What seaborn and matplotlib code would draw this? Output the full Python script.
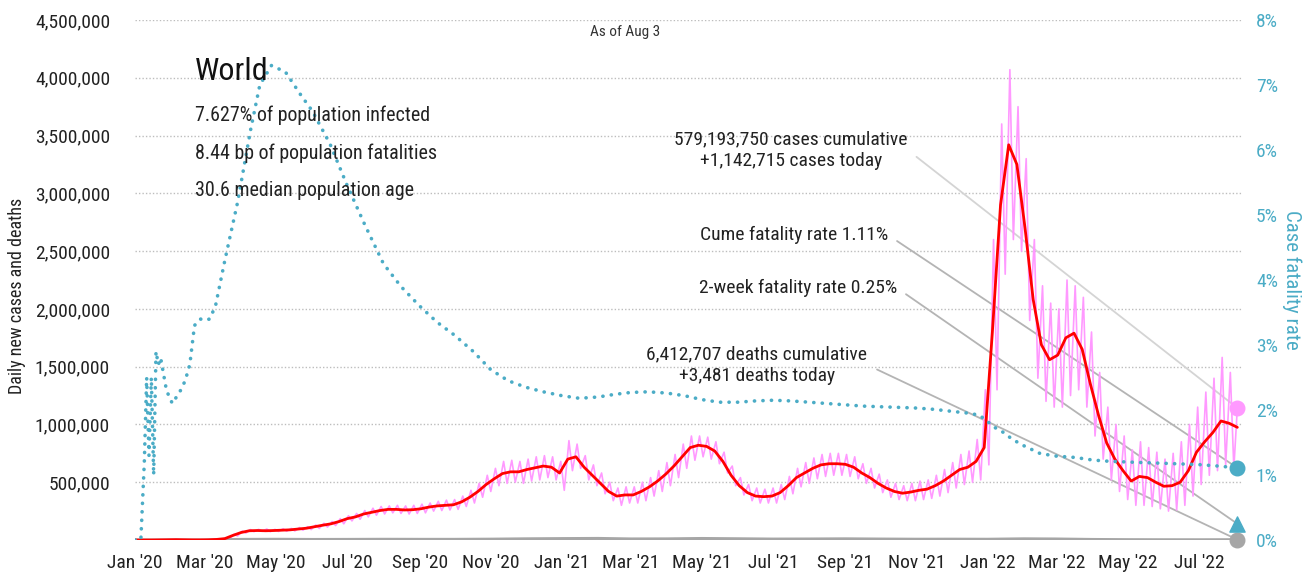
import numpy as np
import pandas as pd
import matplotlib
matplotlib.use("Agg")
import matplotlib.pyplot as plt
import matplotlib.dates as mdates
import matplotlib.ticker as mticker
from matplotlib import font_manager
import seaborn as sns

# ---------------- data ----------------
start = pd.Timestamp("2020-01-01")
end = pd.Timestamp("2022-08-03")

# 7-day average of daily new cases, thousands, weekly from 2020-01-01 (136 weeks)
wk_avg = [0, 0, 0, 1, 2, 3, 2, 1, 1, 2, 5, 12, 40, 65, 80, 82, 80, 82, 85, 88,
          95, 102, 115, 128, 140, 160, 185, 200, 225, 240, 255, 265, 265, 260, 262, 270, 285, 295, 300, 305,
          330, 370, 420, 480, 530, 575, 590, 590, 610, 625, 640, 630, 580, 700, 720, 630, 560, 490, 420, 380,
          390, 390, 420, 460, 510, 570, 640, 720, 800, 820, 810, 770, 680, 560, 470, 410, 380, 375, 380, 410,
          470, 540, 580, 620, 650, 660, 660, 655, 630, 580, 540, 490, 450, 420, 405, 415, 430, 440, 470, 510,
          560, 610, 630, 680, 800, 1800, 2900, 3420, 3250, 2700, 2080, 1690, 1560, 1600, 1750, 1790, 1650, 1350, 1080, 840,
          700, 600, 510, 550, 540, 500, 465, 470, 500, 600, 760, 850, 930, 1030, 1010, 975]

# weekly high / low of raw daily new cases, thousands (135 weeks)
wk_high = [0, 0, 0, 1, 3, 4, 3, 2, 2, 3, 8, 18, 50, 78, 90, 92, 95, 92, 97, 100,
           108, 115, 130, 145, 160, 185, 210, 230, 255, 275, 290, 295, 300, 295, 300, 310, 320, 335, 345, 350,
           380, 430, 490, 560, 620, 680, 690, 680, 700, 720, 730, 720, 680, 860, 830, 730, 650, 580, 500, 450,
           460, 460, 500, 540, 600, 670, 740, 830, 900, 900, 890, 850, 760, 640, 540, 480, 450, 440, 450, 480,
           550, 620, 670, 710, 740, 750, 750, 740, 720, 660, 620, 570, 520, 490, 470, 490, 510, 520, 560, 610,
           670, 740, 770, 870, 1300, 2600, 3600, 4070, 3750, 3300, 2600, 2200, 2050, 2000, 2250, 2200, 2100, 1800, 1450, 1150,
           1000, 900, 780, 850, 800, 760, 700, 750, 850, 1000, 1150, 1280, 1400, 1580, 1450]
wk_low = [0, 0, 0, 0, 2, 2, 1, 0, 1, 2, 4, 10, 35, 60, 72, 75, 72, 74, 76, 78,
          85, 90, 100, 112, 125, 140, 165, 180, 200, 215, 225, 235, 230, 225, 230, 235, 250, 255, 260, 265,
          290, 320, 370, 420, 470, 490, 500, 490, 510, 520, 540, 520, 430, 600, 620, 520, 470, 400, 340, 300,
          320, 320, 340, 380, 420, 470, 540, 620, 690, 720, 700, 660, 580, 470, 390, 340, 320, 320, 320, 350,
          400, 460, 490, 530, 550, 560, 560, 550, 530, 490, 450, 410, 370, 350, 340, 340, 350, 360, 380, 410,
          450, 480, 500, 520, 650, 1300, 2300, 2600, 2500, 1900, 1400, 1200, 1150, 1150, 1250, 1300, 1150, 900, 700, 520,
          420, 350, 300, 300, 290, 270, 250, 260, 300, 380, 480, 560, 600, 650, 620]
cases_today = 1142715
cases_cumulative = 579193750

# cumulative case fatality rate (%), day offset from 2020-01-01
cfr_day = [0, 5, 8, 10, 12, 14, 16, 18, 20, 22, 24, 27, 32, 39, 43, 47, 51, 56, 60, 64,
           69, 77, 88, 99, 107, 117, 129, 142, 152, 167, 182, 197, 213, 228, 244, 259, 274, 290, 305, 320,
           335, 350, 366, 381, 397, 411, 425, 440, 456, 471, 486, 501, 517, 532, 547, 562, 578, 593, 609, 624,
           639, 655, 670, 685, 700, 715, 724, 731, 738, 745, 752, 762, 776, 790, 806, 821, 836, 851, 866, 882,
           897, 912, 927, 945]
cfr_pct = [0, 0, 1.2, 2.5, 1.3, 2.5, 1.0, 2.9, 2.7, 2.8, 2.6, 2.3, 2.1, 2.3, 2.45, 2.7, 3.3, 3.4, 3.38, 3.4,
           3.6, 4.3, 5.2, 6.3, 7.0, 7.3, 7.2, 6.85, 6.6, 6.1, 5.45, 4.85, 4.25, 3.9, 3.6, 3.35, 3.15, 2.9, 2.62, 2.45,
           2.35, 2.28, 2.22, 2.18, 2.2, 2.24, 2.27, 2.28, 2.26, 2.22, 2.16, 2.12, 2.12, 2.14, 2.15, 2.14, 2.12, 2.1, 2.08, 2.06,
           2.05, 2.04, 2.03, 2.01, 1.98, 1.95, 1.92, 1.82, 1.72, 1.65, 1.55, 1.45, 1.33, 1.29, 1.27, 1.23, 1.21, 1.2, 1.19, 1.18,
           1.17, 1.16, 1.14, 1.11]
cfr_2week = 0.25

# daily deaths (7-day avg, thousands) at month starts
death_months = pd.date_range("2020-01-01", "2022-08-01", freq="MS")
deaths_k = [0, 0.1, 0.1, 5, 6, 4.5, 5, 6, 5.5, 5.5, 7, 10,
            12, 13.5, 9, 9.5, 13, 10.5, 7.8, 8.5, 10, 8, 6.5, 7,
            6.2, 10, 8.5, 4.5, 2.7, 2, 1.8, 2.5]
deaths_today = 3481
deaths_cumulative = 6412707

# ---------------- frames ----------------
wk_dates = start + pd.to_timedelta(np.arange(len(wk_avg)) * 7, unit="D")
avg_df = pd.DataFrame({"date": wk_dates, "cases": np.array(wk_avg) * 1000})

p_dates, p_vals = [], []
for k in range(len(wk_high)):
    p_dates.append(start + pd.Timedelta(days=7 * k + 1)); p_vals.append(wk_high[k] * 1000)
    p_dates.append(start + pd.Timedelta(days=7 * k + 4)); p_vals.append(wk_low[k] * 1000)
p_dates.append(end); p_vals.append(cases_today)
raw_df = pd.DataFrame({"date": p_dates, "cases": p_vals})

cfr_df = pd.DataFrame({"date": start + pd.to_timedelta(cfr_day, unit="D"), "cfr": cfr_pct})
d_df = pd.DataFrame({"date": list(death_months) + [end],
                     "deaths": list(np.array(deaths_k) * 1000) + [deaths_today]})

# ---------------- style ----------------
sns.set_theme(style="white")
avail = {f.name for f in font_manager.fontManager.ttflist}
fam = "DejaVu Sans"
for cand in ["Roboto Condensed", "Liberation Sans Narrow", "Open Sans Condensed", "DejaVu Sans Condensed"]:
    if cand in avail:
        fam = cand
        break
plt.rcParams["font.family"] = [fam, "DejaVu Sans"]

PINK = "#ff99ff"
RED = "#ff0000"
TEAL = "#4bacc6"
GREY = "#a6a6a6"

W, H = 1314, 580
fig = plt.figure(figsize=(W / 100, H / 100), dpi=100)
ax = fig.add_axes([135 / W, 1 - 540 / H, (1242 - 135) / W, 520 / H])
ax2 = ax.twinx()

sns.lineplot(data=raw_df, x="date", y="cases", ax=ax, color=PINK, lw=1.2, zorder=2)
sns.lineplot(data=d_df, x="date", y="deaths", ax=ax, color=GREY, lw=2.2, zorder=3)
sns.lineplot(data=avg_df, x="date", y="cases", ax=ax, color=RED, lw=2.0, zorder=4)
sns.lineplot(data=cfr_df, x="date", y="cfr", ax=ax2, color=TEAL, lw=2.6,
             linestyle=(0, (0.05, 2.3)), dash_capstyle="round", zorder=5)

end_num = mdates.date2num(end)

# end markers
ax.scatter([end_num], [cases_today], s=110, color=PINK, zorder=6, clip_on=False)
ax.scatter([end_num], [deaths_today], s=110, color=GREY, zorder=6, clip_on=False)
ax2.scatter([end_num], [cfr_pct[-1]], s=110, color=TEAL, zorder=6, clip_on=False)
ax2.scatter([end_num], [cfr_2week], s=120, marker="^", color=TEAL, zorder=6, clip_on=False)

# axes
ax.set_xlim(mdates.date2num(start), mdates.date2num(end + pd.Timedelta(days=4)))
ax.set_ylim(0, 4_500_000)
ax2.set_ylim(0, 8)
ax.yaxis.set_major_locator(mticker.MultipleLocator(500_000))
ax.yaxis.set_major_formatter(mticker.FuncFormatter(lambda v, p: "" if v == 0 else f"{int(v):,}"))
ax2.yaxis.set_major_locator(mticker.MultipleLocator(1))
ax2.yaxis.set_major_formatter(mticker.FuncFormatter(lambda v, p: f"{int(round(v))}%"))
ax.xaxis.set_major_locator(mdates.MonthLocator(bymonth=[1, 3, 5, 7, 9, 11]))
ax.xaxis.set_major_formatter(mdates.DateFormatter("%b '%y"))

for a in (ax, ax2):
    for s in a.spines.values():
        s.set_visible(False)
    a.set_xlabel("")
ax.grid(axis="y", color="#bdbdbd", linestyle=(0, (1, 1.5)), lw=1)
ax.grid(axis="x", visible=False)
ax2.grid(False)
ax.tick_params(axis="y", length=0, pad=18, labelsize=14, labelcolor="#222222")
ax.tick_params(axis="x", length=0, pad=10, labelsize=14, labelcolor="#222222")
ax2.tick_params(axis="y", length=0, pad=10, labelsize=14, labelcolor=TEAL)
ax.set_ylabel("Daily new cases and deaths", fontsize=13, color="#222222")
ax.yaxis.set_label_coords(-0.0985, 0.47)
ax2.set_ylabel("Case fatality rate", fontsize=15, color=TEAL, rotation=270, va="bottom")
ax2.yaxis.set_label_coords(1.036, 0.5)

# header texts
fig.text(625 / W, 1 - 32 / H, "As of Aug 3", ha="center", va="center", fontsize=11, color="#333333")
fig.text(195 / W, 1 - 72 / H, "World", ha="left", va="center", fontsize=23, color="#111111")
for yy, t in [(115, "7.627% of population infected"),
              (153, "8.44 bp of population fatalities"),
              (191, "30.6 median population age")]:
    fig.text(195 / W, 1 - yy / H, t, ha="left", va="center", fontsize=14.4, color="#222222")

# annotations with leader lines
def note(text, xy, trans, pos, ha, color):
    ax.annotate(text, xy=xy, xycoords=trans, xytext=(pos[0], H - pos[1]),
                textcoords="figure pixels", ha=ha, va="center", fontsize=14,
                color="#222222", multialignment="center", linespacing=1.3,
                arrowprops=dict(arrowstyle="-", color=color, lw=1.3, shrinkA=5, shrinkB=0,
                                relpos=(1, 0.5)), zorder=1)

note(f"{cases_cumulative:,} cases cumulative\n+{cases_today:,} cases today",
     (end_num, cases_today), ax.transData, (791, 150), "center", "#d4d4d4")
note(f"Cume fatality rate {cfr_pct[-1]:.2f}%", (end_num, cfr_pct[-1]), ax2.transData,
     (888, 235), "right", "#b4b4b4")
note(f"2-week fatality rate {cfr_2week:.2f}%", (end_num, cfr_2week), ax2.transData,
     (897, 288), "right", "#b4b4b4")
note(f"{deaths_cumulative:,} deaths cumulative\n+{deaths_today:,} deaths today",
     (end_num, deaths_today), ax.transData, (757, 365), "center", "#b4b4b4")

fig.savefig("out.png", dpi=100)
